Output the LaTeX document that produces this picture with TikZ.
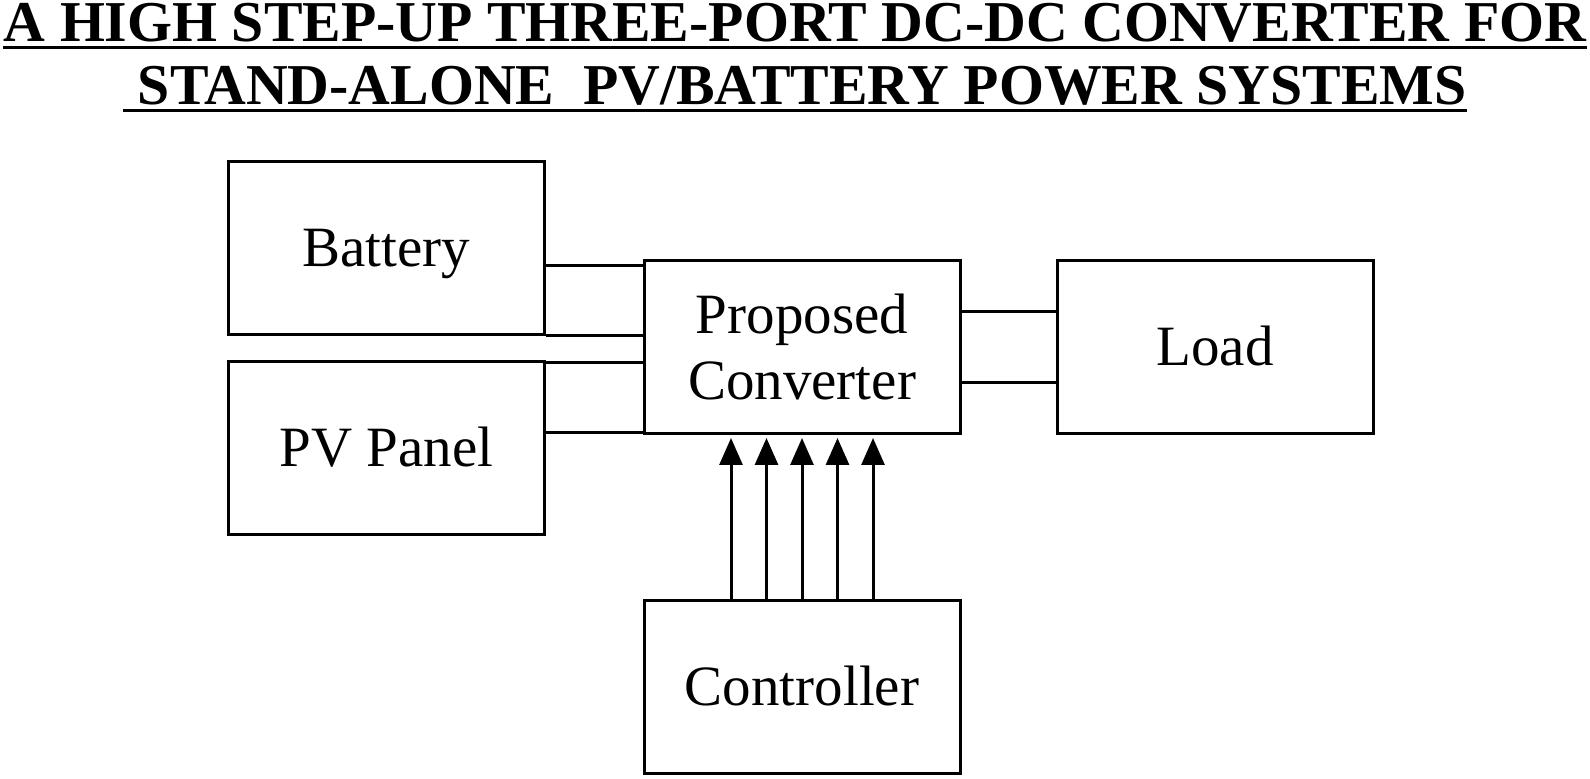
\documentclass[tikz,border=0pt]{standalone}
\usepackage{fontspec}
\setmainfont{Liberation Serif}
\usetikzlibrary{arrows.meta}
\tikzset{
	box/.style={draw,line width=1.5pt,minimum width=158pt,minimum height=86.5pt,inner sep=0pt,font=\fontsize{28.5}{33}\selectfont},
	blk/.style={box,text height=18.9pt,text depth=0pt},
	ttl/.style={inner sep=0pt,anchor=base,font=\fontsize{28.9}{34}\selectfont\bfseries},
	uline/.style={line width=1.5pt},
	wire/.style={line width=1.5pt},
	sig/.style={line width=1.5pt,-{Triangle[length=13.5pt,width=11.5pt]},shorten >=1.5pt}
}

\begin{document}
\begin{tikzpicture}[x=0.5pt,y=-0.5pt]
					\useasboundingbox (0,0) rectangle (1590,779);

					\node [ttl] (t1) at (795,41.5) {A HIGH STEP-UP THREE-PORT DC-DC CONVERTER FOR};
					\node [ttl] (t2) at (795,105) {\ STAND-ALONE\ \ PV/BATTERY POWER SYSTEMS};
					\draw [uline] ([yshift=-3pt]t1.base west) -- ([yshift=-3pt]t1.base east);
					\draw [uline] ([yshift=-3pt]t2.base west) -- ([yshift=-3pt]t2.base east);

					\node [blk] (bat) at (386.5,248) {Battery};
					\node [blk] (pv) at (386.5,448) {PV Panel};
					\node [box,align=center] (conv) at (802,347) {Proposed\\Converter};
					\node [blk] (load) at (1215,347) {Load};
					\node [blk] (ctrl) at (802,687) {Controller};

					\draw [wire] ([yshift=-9pt]bat.east) -- ([yshift=-9pt]conv.west |- bat.east);
					\draw [wire] (bat.south east) -- (conv.west |- bat.south east);
					\draw [wire] ([yshift=42.5pt]pv.east) -- ([yshift=42.5pt]conv.west |- pv.east);
					\draw [wire] ([yshift=7.5pt]pv.east) -- ([yshift=7.5pt]conv.west |- pv.east);

					\draw [wire] ([yshift=17.5pt]conv.east) -- ([yshift=17.5pt]load.west |- conv.east);
					\draw [wire] ([yshift=-18pt]conv.east) -- ([yshift=-18pt]load.west |- conv.east);

					\foreach \dx in {-35.5,-17.75,0,17.75,35.5}
						\draw [sig] ([xshift=\dx pt]ctrl.north) -- ([xshift=\dx pt]conv.south);
\end{tikzpicture}
\end{document}
